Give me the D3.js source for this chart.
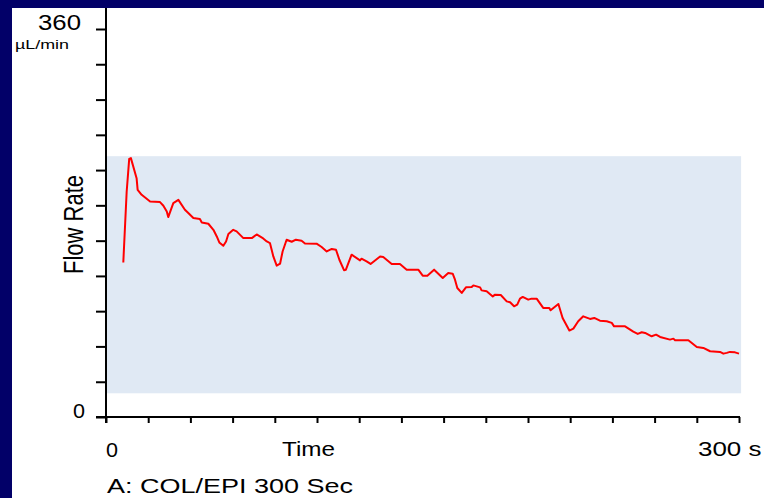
<!DOCTYPE html>
<html>
<head>
<meta charset="utf-8">
<script src="https://cdn.jsdelivr.net/npm/d3@7"></script>
<style>
  html, body { margin: 0; padding: 0; background: #ffffff; }
  svg { display: block; font-family: "Liberation Sans", Arial, sans-serif; }
</style>
</head>
<body>
<svg id="chart" width="764" height="498"></svg>
<script>
// Flow-rate trace, µL/min against seconds
const timeSec = [8.2, 9.8, 11.0, 11.8, 14.5, 15.0, 16.9, 20.9, 25.6, 27.2, 28.8, 29.5, 31.9, 34.3,
  37.4, 39.0, 41.4, 44.5, 45.4, 48.5, 50.9, 52.5, 53.7, 55.6, 56.9, 58.0, 60.3, 61.9, 65.1, 69.1,
  71.4, 74.5, 76.2, 77.7, 79.3, 80.9, 82.5, 83.7, 85.6, 88.0, 90.0, 92.7, 94.3, 99.8, 102.2, 104.6,
  107.0, 109.0, 110.6, 112.8, 113.7, 116.4, 120.4, 121.1, 123.5, 125.4, 129.9, 131.4, 135.4, 139.3,
  142.5, 148.0, 150.1, 152.3, 155.5, 159.6, 162.2, 164.3, 165.4, 166.5, 168.6, 170.6, 173.3, 174.1,
  177.3, 178.0, 180.4, 183.3, 184.4, 187.1, 189.9, 191.5, 193.4, 194.9, 196.2, 197.5, 200.1, 201.7,
  204.1, 207.2, 210.1, 210.7, 214.4, 216.4, 219.6, 221.5, 223.8, 226.2, 229.4, 231.4, 234.1, 237.3,
  239.7, 240.8, 246.0, 249.9, 252.0, 253.9, 255.5, 258.6, 260.7, 262.6, 267.3, 268.9, 269.7, 276.0,
  280.0, 283.1, 286.3, 291.0, 292.6, 294.2, 295.7, 298.1, 300.0];
const flowRate = [143.4, 209.2, 239.5, 240.2, 221.6, 210.8, 206.2, 200.0, 199.4, 196.0, 190.7, 185.5, 198.5, 201.5,
  192.3, 189.2, 184.6, 183.7, 180.5, 179.3, 173.7, 167.5, 162.0, 158.9, 162.9, 169.8, 173.7, 172.2, 166.0, 166.0,
  169.4, 165.7, 162.9, 161.4, 149.0, 140.4, 142.2, 153.6, 164.5, 162.6, 164.5, 163.5, 161.0, 160.8, 157.7, 153.6,
  155.9, 155.2, 145.9, 136.2, 136.7, 150.6, 145.3, 146.9, 144.4, 142.0, 149.0, 148.4, 142.0, 142.0,
  136.7, 136.7, 131.1, 131.1, 136.7, 129.0, 133.6, 133.0, 127.4, 119.7, 115.1, 120.3, 120.6, 122.1,
  120.3, 117.5, 116.6, 111.9, 113.5, 113.2, 107.3, 106.4, 102.7, 104.2, 109.8, 111.4, 108.9, 109.8,
  109.8, 101.2, 101.2, 99.0, 104.9, 91.9, 80.2, 82.0, 88.8, 93.4, 91.0, 91.9, 89.4, 88.8,
  87.3, 84.1, 84.1, 79.2, 77.1, 78.6, 78.0, 74.9, 76.4, 74.3, 71.8, 72.7, 71.2, 71.2,
  65.0, 64.1, 61.0, 60.4, 58.8, 59.5, 60.4, 60.0, 58.8];

// Shaded reference band (time span and flow limits)
const bandTime = [0, 301];
const bandFlow = [22, 242];

// Axis ticks
const xTickValues = [0, 20, 40, 60, 80, 100, 120, 140, 160, 180, 200, 220, 240, 260, 280, 300];
const yTickValues = [0, 32.7, 65.5, 98.2, 130.9, 163.6, 196.4, 229.1, 261.8, 294.5, 327.3, 360];
const yEndLabels = [{ v: 0, text: "0" }, { v: 360, text: "360" }];

const svg = d3.select("#chart");
const W = 764, H = 498;

const x = d3.scaleLinear().domain([0, 300]).range([106, 739]);
const y = d3.scaleLinear().domain([0, 360]).range([417, 29]);

// Frame: navy strip on the left and top
svg.append("rect").attr("x", 0).attr("y", 0).attr("width", W).attr("height", H).attr("fill", "#ffffff");
svg.append("rect").attr("x", 0).attr("y", 0).attr("width", W).attr("height", 8).attr("fill", "#020068");
svg.append("rect").attr("x", 0).attr("y", 0).attr("width", 12).attr("height", H).attr("fill", "#020068");

// Band
svg.append("rect")
  .attr("x", x(bandTime[0]) + 1)
  .attr("y", y(bandFlow[1]))
  .attr("width", x(bandTime[1]) - x(bandTime[0]) - 1)
  .attr("height", y(bandFlow[0]) - y(bandFlow[1]))
  .attr("fill", "#e0e9f4");

// Y axis
const gy = svg.append("g").attr("transform", `translate(${x(0)},0)`)
  .call(d3.axisLeft(y).tickValues(yTickValues).tickSize(10).tickSizeOuter(0).tickFormat(""));
gy.select(".domain").remove();
gy.selectAll(".tick line").attr("stroke", "#000").attr("stroke-width", 2);
svg.append("line")
  .attr("x1", x(0)).attr("x2", x(0))
  .attr("y1", 8).attr("y2", y(0) + 6)
  .attr("stroke", "#000").attr("stroke-width", 2);

// X axis
const gx = svg.append("g").attr("transform", `translate(0,${y(0)})`)
  .call(d3.axisBottom(x).tickValues(xTickValues).tickSize(6).tickSizeOuter(0).tickFormat(""));
gx.select(".domain").attr("stroke", "#000").attr("stroke-width", 2)
  .attr("d", `M${x(0) - 10},0H${x(300) + 1}`);
gx.selectAll(".tick line").attr("stroke", "#000").attr("stroke-width", 2);

// Trace
const pts = timeSec.map((t, i) => [t, flowRate[i]]);
svg.append("path")
  .datum(pts)
  .attr("fill", "none")
  .attr("stroke", "#ff0000")
  .attr("stroke-width", 2)
  .attr("stroke-linejoin", "round")
  .attr("d", d3.line().x(d => x(d[0])).y(d => y(d[1])));

// Text helper (labels are drawn slightly wide)
function label(txt, px, py, size, len, anchor) {
  const t = svg.append("text")
    .attr("x", px).attr("y", py)
    .attr("font-size", size)
    .attr("fill", "#000")
    .attr("text-anchor", anchor || "start")
    .text(txt);
  if (len) t.attr("textLength", len).attr("lengthAdjust", "spacingAndGlyphs");
  return t;
}

// Y end labels
label(yEndLabels[1].text, 81, y(yEndLabels[1].v) + 0.5, 22, 43, "end");
label(yEndLabels[0].text, 85, y(yEndLabels[0].v) + 0.5, 21, 12, "end");
label("µL/min", 15, 48.5, 13, 54);

// Axis titles
svg.append("text")
  .attr("transform", "translate(83,224.5) scale(1.25,1) rotate(-90)")
  .attr("font-size", 22)
  .attr("text-anchor", "middle")
  .attr("fill", "#000")
  .text("Flow Rate");

label("0", x(0), 456.5, 21, 12);
label("Time", 282, 456, 20, 53);
label("300 s", 698, 455.5, 21, 63.5);
label("A: COL/EPI 300 Sec", 107, 493, 21, 246);
</script>
</body>
</html>
